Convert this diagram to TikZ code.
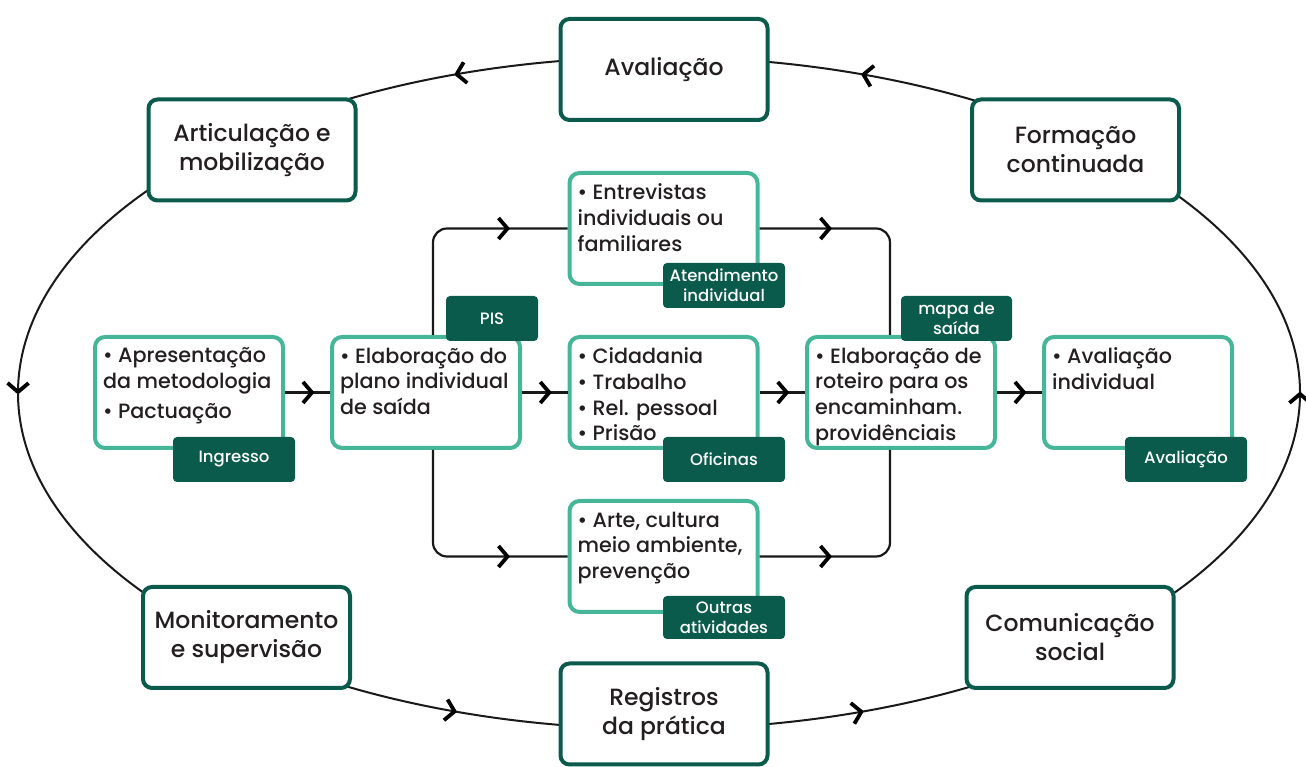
\documentclass[tikz,border=0pt]{standalone}
\usepackage{fontspec}
\setmainfont{Poppins}[UprightFont={* Medium}]
\usetikzlibrary{arrows.meta,decorations.markings}
\definecolor{dkg}{HTML}{0B5B4C}
\definecolor{tealb}{HTML}{46B699}
\definecolor{txt}{HTML}{231F20}
\begin{document}
\begin{tikzpicture}[x=1pt,y=1pt,
  outer/.style={draw=dkg, line width=4pt, fill=white, rounded corners=9pt,
    minimum width=207pt, minimum height=101pt, align=center,
    font=\fontsize{23.5}{29}\selectfont, text=txt, inner sep=0pt},
  inner/.style={draw=tealb, line width=4pt, fill=white, rounded corners=10pt,
    minimum width=188pt, minimum height=111pt, inner sep=0pt},
  tagbox/.style={fill=dkg, rounded corners=4pt, text=white, minimum width=122pt,
    minimum height=45pt, align=center, font=\fontsize{16.5}{20}\selectfont, inner sep=0pt},
  itxt/.style={anchor=north west, align=left, font=\fontsize{20.7}{25.7}\selectfont,
    text=txt, inner sep=0pt},
  conn/.style={draw=black!90, line width=2.2pt},
  ell/.style={draw=black!90, line width=2pt},
  chevshape/.style={draw=black, line width=3.8pt, line cap=butt, line join=miter, sharp corners},
  chev/.style={decoration={markings, mark=at position #1 with
    {\draw[chevshape] (-9pt,10.5pt) -- (0pt,0pt) -- (-9pt,-10.5pt);}},
    postaction={decorate}}]
\useasboundingbox (0,0) rectangle (1306,767);
% outer ring
\draw[ell,chev=-1pt] ({659+641},374) arc[start angle=0,end angle=71.5,x radius=641,y radius=336];
\draw[ell,chev=-1pt] ({659+641*cos(71.5)},{374+336*sin(71.5)}) arc[start angle=71.5,end angle=108.5,x radius=641,y radius=336];
\draw[ell,chev=-1pt] ({659+641*cos(108.5)},{374+336*sin(108.5)}) arc[start angle=108.5,end angle=180,x radius=641,y radius=336];
\draw[ell,chev=-1pt] ({659-641},374) arc[start angle=180,end angle=251.5,x radius=641,y radius=336];
\draw[ell,chev=-1pt] ({659+641*cos(251.5)},{374+336*sin(251.5)}) arc[start angle=251.5,end angle=288.5,x radius=641,y radius=336];
\draw[ell,chev=-1pt] ({659+641*cos(288.5)},{374+336*sin(288.5)}) arc[start angle=288.5,end angle=360,x radius=641,y radius=336];
% outer boxes
\node[outer] (aval) at (664,697.5) {Avaliação};
\node[outer] (artic) at (252,617) {Articulação e\\mobilização};
\node[outer] (form) at (1075.5,617) {Formação\\continuada};
\node[outer] (monit) at (246.5,129.5) {Monitoramento\\e supervisão};
\node[outer] (reg) at (664,53) {Registros\\da prática};
\node[outer] (comun) at (1070,129.5) {Comunicação\\social};
% inner boxes
\node[inner] (ingr) at (189,374.5) {};
\node[inner] (plano) at (426,374.5) {};
\node[inner] (ofic) at (663.5,374.5) {};
\node[inner] (rot) at (901,374.5) {};
\node[inner] (avind) at (1138,374.5) {};
\node[inner] (entr) at (663.5,538.5) {};
\node[inner] (arte) at (663.5,210.5) {};
% connectors
\draw[conn,chev=0.6] (ingr.east) -- (plano.west);
\draw[conn,chev=0.6] (plano.east) -- (ofic.west);
\draw[conn,chev=0.6] (ofic.east) -- (rot.west);
\draw[conn,chev=0.6] (rot.east) -- (avind.west);
\draw[conn,rounded corners=14pt,chev=-60pt] ([xshift=7pt]plano.north) |- (entr.west);
\draw[conn,rounded corners=14pt,chev=-60pt] ([xshift=7pt]plano.south) |- (arte.west);
\draw[conn,rounded corners=14pt,chev=70pt] (entr.east) -| ([xshift=-11pt]rot.north);
\draw[conn,rounded corners=14pt,chev=70pt] (arte.east) -| ([xshift=-11pt]rot.south);
% inner texts
\node[itxt] (ingr-t) at ([shift={(10,-12.5)}]ingr.north west) {\textbullet\ Apresentação\\da metodologia\\[4pt]\textbullet\ Pactuação};
\node[itxt] (plano-t) at ([shift={(10,-12.5)}]plano.north west) {\textbullet\ Elaboração do\\plano individual\\de saída};
\node[itxt] (ofic-t) at ([shift={(10,-12.5)}]ofic.north west) {\textbullet\ Cidadania\\\textbullet\ Trabalho\\\textbullet\ Rel. pessoal\\\textbullet\ Prisão};
\node[itxt] (rot-t) at ([shift={(10,-12.5)}]rot.north west) {\textbullet\ Elaboração de\\roteiro para os\\encaminham.\\providênciais};
\node[itxt] (avind-t) at ([shift={(10,-12.5)}]avind.north west) {\textbullet\ Avaliação\\individual};
\node[itxt] (entr-t) at ([shift={(10,-12.5)}]entr.north west) {\textbullet\ Entrevistas\\individuais ou\\familiares};
\node[itxt] (arte-t) at ([shift={(10,-12.5)}]arte.north west) {\textbullet\ Arte, cultura\\meio ambiente,\\prevenção};
% tags
\node[tagbox] (ingr-tag) at (234,307.5) {Ingresso};
\node[tagbox,minimum width=92pt] (pis-tag) at (492,448.5) {PIS};
\node[tagbox] (entr-tag) at (724,481.5) {Atendimento\\individual};
\node[tagbox] (ofic-tag) at (724,307.5) {Oficinas};
\node[tagbox,minimum height=43pt] (arte-tag) at (724,149.5) {Outras\\atividades};
\node[tagbox,minimum width=111pt] (rot-tag) at (956.5,448.5) {mapa de\\saída};
\node[tagbox] (avind-tag) at (1186,307.5) {Avaliação};
\end{tikzpicture}
\end{document}
